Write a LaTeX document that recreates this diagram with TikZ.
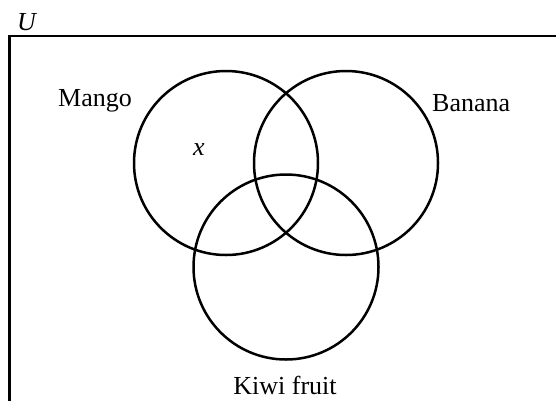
\documentclass[tikz,border=0pt]{standalone}
\usepackage{fontspec}
\setmainfont{Liberation Serif}
\begin{document}
\begin{tikzpicture}[x=1pt,y=-1pt,
  setcircle/.style={draw=black,line width=2.5pt},
  lbl/.style={inner sep=0pt,font=\fontsize{26}{30}\selectfont}]
\useasboundingbox (0,0) rectangle (556,400);
\clip (0,0) rectangle (556,400);
\draw[line width=2.3pt] (9.5,36) rectangle (580,430);
\draw[setcircle] (226,163) circle[radius=92];
\draw[setcircle] (346,163) circle[radius=92];
\draw[setcircle] (286,267) circle[radius=92.5];
\node[lbl,anchor=base west] (u) at (17,30) {\itshape U};
\node[lbl,anchor=base west] (mango) at (58,106) {Mango};
\node[lbl,anchor=base west] (banana) at (432,111) {Banana};
\node[lbl,anchor=base] (kiwi) at (285,394) {Kiwi fruit};
\node[lbl,anchor=base] (x) at (199,155) {\itshape x};
\end{tikzpicture}
\end{document}
